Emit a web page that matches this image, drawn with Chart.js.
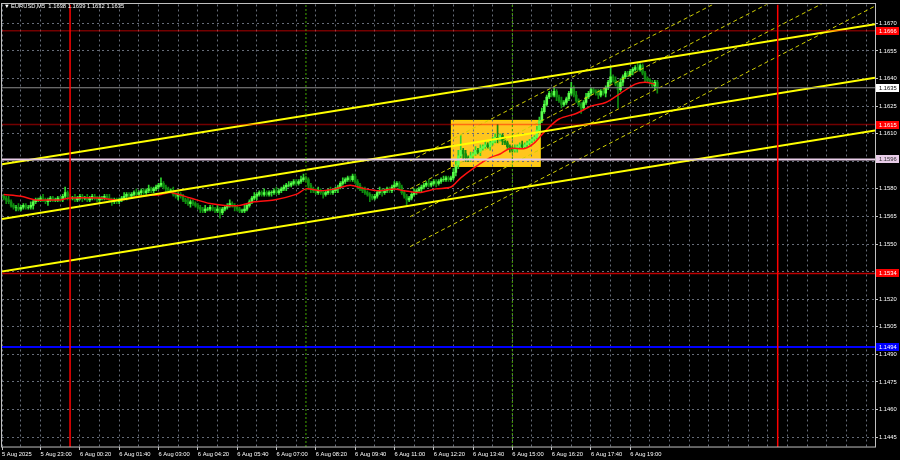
<!DOCTYPE html>
<html>
<head>
<meta charset="utf-8">
<script src="https://cdn.jsdelivr.net/npm/chart.js@4.4.0/dist/chart.umd.min.js"></script>
<style>
  html, body { margin: 0; background: #000; }
</style>
</head>
<body>
<canvas id="chart" width="900" height="460"></canvas>
<script>
// EURUSD M5, bar index 0 = 6 Aug 2025 00:00, one bar = 5 minutes
const firstBar = -27;
const firstOpen = 76;
// closes in pips above 1.1500
const closes = [
  75, 74, 73,
  71, 70, 70, 69, 70, 71, 70, 70, 71,
  73, 74,
  74, 75, 74, 73, 74, 75, 74, 74, 75, 74,
  76, 78, 76, 75,
  75, 74, 75, 76, 75, 75, 74, 75, 76, 75, 74, 75, 75, 76, 75, 74,
  73, 74, 73, 74,
  75, 76, 77, 76, 77, 78, 77, 78,
  79, 78, 79, 80, 79,
  80, 81, 82,
  83,
  81, 80, 79, 79,
  77, 76, 77, 76,
  74, 73, 72, 73, 72, 71,
  70, 69, 68, 69,
  69, 70, 69, 68,
  69, 67, 69, 70,
  71, 72, 71, 70,
  69, 68, 68, 69,
  71, 73, 75, 76,
  77, 78, 77, 78,
  77, 78, 78, 79, 78, 79,
  80, 81, 82, 82,
  83, 84, 83, 84,
  85, 86, 85,
  82, 80,
  79, 78, 79, 78, 77, 78, 79, 78, 79, 80,
  81, 83,
  84, 85, 86, 85, 87,
  84, 82, 80, 79, 78,
  77, 76, 75, 76,
  78, 79, 78, 79, 80, 79,
  81, 82, 83, 81,
  78, 76, 74, 75,
  77, 78, 79, 80,
  81, 82, 83, 82, 83, 84, 83, 84, 85,
  85, 86, 85, 86,
  89, 93,
  98, 101,
  99, 97, 96, 98,
  99, 101, 100, 102,
  103, 104, 103, 105,
  106, 108, 107, 109,
  106, 105,
  103, 102, 101, 102,
  103, 104, 103, 104,
  105, 106, 107, 108,
  112, 117,
  122, 126,
  130, 132, 131, 133,
  130, 128, 126, 127,
  129, 132, 135, 131,
  128, 126, 124, 127,
  130, 132, 134, 133,
  132, 131, 133, 132,
  135, 138, 141, 139,
  137, 134, 138,
  141, 143, 142, 144,
  145, 146, 145, 147,
  143, 140, 139, 138,
  136, 138, 135
];
// wick lengths in pips above / below the body
const wickUp = [
  1,1,2,1,1,1,2,1,1,1,1,2,1,1,1,1,2,1,1,1,
  1,1,1,1,1,3,1,1,1,2,1,1,1,1,2,1,1,1,1,1,
  1,1,1,2,1,1,1,1,1,2,1,1,1,1,2,1,1,1,1,2,
  1,1,1,1,3,1,1,1,1,2,1,1,1,1,1,2,1,1,1,1,
  1,1,2,1,1,1,1,2,1,1,1,1,2,1,1,1,1,1,2,1,
  1,1,2,1,1,1,2,1,1,1,1,2,1,1,1,1,2,1,1,1,
  1,2,2,1,1,1,1,1,2,1,1,1,1,2,1,1,1,1,2,1,
  1,1,1,1,1,1,1,2,1,1,1,1,1,2,1,1,1,1,1,2,
  1,1,1,1,1,1,1,2,1,1,1,1,1,2,1,1,1,1,1,2,
  1,1,1,2,2,3,8,1,2,1,2,1,2,1,2,1,2,1,1,2,
  2,7,1,1,2,1,1,1,2,1,1,2,1,1,1,1,1,2,2,2,
  2,1,1,1,2,1,1,2,1,1,1,3,1,2,1,1,1,2,1,1,
  1,1,2,1,1,1,1,5,1,2,1,2,1,1,1,1,1,1,3,1,
  1,1,1,1,1,1,1
];
const wickDn = [
  1,2,1,1,1,2,1,1,1,1,1,1,2,1,1,1,1,1,2,1,
  1,1,1,1,1,1,2,1,1,1,1,1,2,1,1,1,1,1,1,2,
  1,1,1,1,2,1,1,1,1,1,2,1,1,1,1,1,2,1,1,1,
  1,1,1,1,1,1,2,1,1,1,1,2,1,1,1,1,2,1,1,1,
  2,1,1,1,1,1,1,1,3,1,1,1,1,1,2,1,1,1,1,1,
  1,1,1,2,1,1,1,1,1,2,1,1,1,1,1,2,1,1,1,1,
  1,1,1,1,2,2,1,1,1,1,2,1,1,1,1,1,2,1,1,1,
  1,1,1,1,2,1,1,1,1,3,1,1,1,1,2,1,1,1,1,1,
  1,1,1,1,3,1,1,1,1,1,2,1,1,1,1,1,2,1,1,1,
  1,1,1,1,2,2,1,3,2,1,1,2,1,1,2,1,1,1,2,1,
  1,2,1,2,1,1,2,1,1,2,1,1,1,1,1,1,1,1,1,1,
  1,1,1,1,1,2,1,2,1,1,1,1,1,1,1,3,1,1,1,1,
  1,1,2,1,1,2,1,1,1,1,10,1,2,1,1,1,2,1,1,1,
  1,2,1,1,1,2,3
];

// red moving average
const maBars = [-27, -20, -14, -8, -4, 0, 12, 20, 28, 37, 41, 49, 57, 63, 69, 75, 83, 92, 96, 102,
  108, 114, 120, 126, 132, 136, 142, 149, 155, 159, 165, 171, 175, 179, 185, 189, 193, 199, 206, 212,
  218, 224, 230, 234, 238];
const maValues = [1.1577, 1.1576, 1.1574, 1.1574, 1.1574, 1.1575, 1.1575, 1.1574, 1.1576, 1.1577,
  1.1578, 1.1575, 1.1572, 1.1571, 1.1571, 1.1573, 1.1574, 1.1577, 1.1580, 1.1579,
  1.1580, 1.1582, 1.1580, 1.1579, 1.1580, 1.1579, 1.1578, 1.1580, 1.1581, 1.1586,
  1.1592, 1.1597, 1.1599, 1.1602, 1.1602, 1.1605, 1.1611, 1.1618, 1.1621, 1.1625,
  1.1627, 1.1632, 1.1637, 1.1638, 1.1637];

// horizontal levels
const redLevels = [1.1666, 1.1615, 1.1534];
const pinkLevel = 1.1596;
const blueLevel = 1.1494;
const lastPrice = 1.1635;

// solid yellow trend lines (price at left edge / right edge)
const trendStart = [1.15934, 1.15636, 1.15350];
const trendEnd = [1.16696, 1.16404, 1.16118];
// dashed channel lines (start bar 138.4, end at right edge)
const channelStartBar = 138.4;
const channelStart = [1.15952, 1.15800, 1.15649, 1.15486];
const channelEnd = [1.17259, 1.17108, 1.16956, 1.16794];

// vertical lines
const dayBars = [0, 288];
const sessionBars = [96, 180];

// yellow box
const boxBars = [155, 191.5];
const boxPrices = [1.1592, 1.16175];

const xMin = -27.7, xMax = 327.6;
const yMin = 1.14396, yMax = 1.16803;
const yTicks = [1.1445, 1.1460, 1.1475, 1.1490, 1.1505, 1.1520, 1.1535, 1.1550, 1.1565, 1.1580,
  1.1595, 1.1610, 1.1625, 1.1640, 1.1655, 1.1670];
const symbolTitle = "EURUSD,M5  1.1638 1.1639 1.1632 1.1635";
const firstDateLabel = "5 Aug 2025";

const font = '"Liberation Sans", Arial, "DejaVu Sans", sans-serif';
Chart.defaults.font.family = font;
Chart.defaults.font.size = 5.8;

const toPrice = (p) => +(1.15 + p * 0.0001).toFixed(5);
const lastBar = firstBar + closes.length - 1;

const bars = closes.map((_, k) => firstBar + k);
const opens = closes.map((c, k) => (k === 0 ? firstOpen : closes[k - 1]));
const bodyData = bars.map((x, k) => ({ x, y: [toPrice(opens[k]), toPrice(closes[k])] }));
const wickData = bars.map((x, k) => ({
  x,
  y: [toPrice(Math.min(opens[k], closes[k]) - wickDn[k]), toPrice(Math.max(opens[k], closes[k]) + wickUp[k])],
}));
const bodyColors = closes.map((c, k) => (c >= opens[k] ? "#5cff4c" : "#0f8c0f"));
const wickColors = closes.map((c, k) => (c >= opens[k] ? "#2ed82e" : "#0f8c0f"));

const xTicks = [xMin];
for (let v = -20; v <= 324; v += 8) xTicks.push(v);

const pad = (n) => String(n).padStart(2, "0");
const timeLabel = (v) => {
  if (v === xMin) return firstDateLabel;
  if ((v - 4) % 16 !== 0 || v > lastBar) return "";
  const d = new Date(Date.UTC(2025, 7, 6) + v * 300000);
  return `${d.getUTCDate()} Aug ${pad(d.getUTCHours())}:${pad(d.getUTCMinutes())}`;
};

const hLine = (p) => [{ x: xMin, y: p }, { x: xMax, y: p }];
const vLine = (b) => [{ x: b, y: yMin }, { x: b, y: yMax }];
const lineSet = (data, color, width, order, dash) => ({
  type: "line",
  data,
  borderColor: color,
  borderWidth: width,
  borderDash: dash || [],
  pointRadius: 0,
  fill: false,
  order,
});

const datasets = [
  {
    type: "bar",
    data: wickData,
    backgroundColor: wickColors,
    barThickness: 1,
    grouped: false,
    order: 6,
  },
  {
    type: "bar",
    data: bodyData,
    backgroundColor: bodyColors,
    barThickness: 2,
    grouped: false,
    order: 5,
  },
  {
    ...lineSet(maBars.map((b, k) => ({ x: b, y: maValues[k] })), "#ff1010", 1.5, 4),
    tension: 0.3,
  },
];
channelStart.forEach((p, k) => {
  datasets.push(lineSet([{ x: channelStartBar, y: p }, { x: xMax, y: channelEnd[k] }], "#d0d000", 1, 3, [4, 3]));
});
trendStart.forEach((p, k) => {
  datasets.push(lineSet([{ x: xMin, y: p }, { x: xMax, y: trendEnd[k] }], "#ffff00", 2, 2.5));
});
redLevels.forEach((p, k) => {
  datasets.push(lineSet(hLine(p), k === 2 ? "rgba(255,0,0,0.75)" : "rgba(255,0,0,0.45)", 1.5, 2));
});
datasets.push(lineSet(hLine(pinkLevel), "#e8cce8", 2, 2));
datasets.push(lineSet(hLine(blueLevel), "#0000ff", 2, 2));
datasets.push(lineSet(hLine(lastPrice), "#8c8c8c", 1, 2));
dayBars.forEach((b) => datasets.push(lineSet(vLine(b), "#ff0000", 1.5, 1)));
sessionBars.forEach((b) => datasets.push(lineSet(vLine(b), "#44a800", 1, 1, [2, 2])));

const gridColor = "#666c78";

const mtPlugin = {
  id: "mt",
  beforeDraw(chart) {
    const { ctx, scales: { x, y } } = chart;
    ctx.save();
    ctx.fillStyle = "#000";
    ctx.fillRect(0, 0, chart.width, chart.height);
    const x0 = x.getPixelForValue(boxBars[0]);
    const x1 = x.getPixelForValue(boxBars[1]);
    const y0 = y.getPixelForValue(boxPrices[1]);
    const y1 = y.getPixelForValue(boxPrices[0]);
    ctx.fillStyle = "#ffc61e";
    ctx.fillRect(x0, y0, x1 - x0, y1 - y0);
    ctx.strokeStyle = "#ffd700";
    ctx.lineWidth = 1;
    ctx.strokeRect(x0 + 0.5, y0 + 0.5, x1 - x0 - 1, y1 - y0 - 1);
    ctx.restore();
  },
  afterDraw(chart) {
    const { ctx, chartArea: a, scales: { y } } = chart;
    ctx.save();
    ctx.strokeStyle = "#c0c0c0";
    ctx.lineWidth = 1;
    ctx.strokeRect(Math.round(a.left) - 0.5, Math.round(a.top) - 0.5, a.right - a.left + 1, a.bottom - a.top + 1);

    const tags = [
      [redLevels[0], "#ff0000", "#ffffff"],
      [lastPrice, "#ffffff", "#000000"],
      [redLevels[1], "#ff0000", "#ffffff"],
      [pinkLevel, "#e8cce8", "#303030"],
      [redLevels[2], "#ff0000", "#ffffff"],
      [blueLevel, "#0000ff", "#ffffff"],
    ];
    ctx.font = `5.8px ${font}`;
    ctx.textBaseline = "middle";
    ctx.textAlign = "left";
    tags.forEach(([p, bg, fg]) => {
      const py = Math.round(y.getPixelForValue(p));
      ctx.fillStyle = bg;
      ctx.fillRect(a.right + 1, py - 4, 23, 8);
      ctx.fillStyle = fg;
      ctx.fillText(p.toFixed(4), a.right + 4, py + 0.5);
    });

    ctx.fillStyle = "#ffffff";
    ctx.fillText("\u25BC", 4, 6.5);
    ctx.fillText(symbolTitle, 11, 6.5);
    ctx.restore();
  },
};

new Chart(document.getElementById("chart"), {
  type: "bar",
  data: { datasets },
  options: {
    responsive: false,
    devicePixelRatio: 1,
    animation: false,
    layout: { padding: { left: 2, top: 2, right: 0, bottom: 0 } },
    plugins: { legend: { display: false }, tooltip: { enabled: false } },
    scales: {
      x: {
        type: "linear",
        min: xMin,
        max: xMax,
        offset: false,
        afterBuildTicks: (s) => { s.ticks = xTicks.map((v) => ({ value: v })); },
        afterFit: (s) => { s.height = 13; },
        ticks: {
          autoSkip: false,
          maxRotation: 0,
          align: "start",
          padding: 1,
          color: "#ffffff",
          callback: (v) => timeLabel(v),
        },
        grid: {
          offset: false,
          color: gridColor,
          tickLength: 3,
          tickColor: (c) => (c.tick && c.tick.label ? "#c0c0c0" : "rgba(0,0,0,0)"),
        },
        border: { display: false, dash: [2, 3] },
      },
      y: {
        type: "linear",
        position: "right",
        min: yMin,
        max: yMax,
        beginAtZero: false,
        afterBuildTicks: (s) => { s.ticks = yTicks.map((v) => ({ value: v })); },
        afterFit: (s) => { s.width = 25; },
        ticks: {
          padding: 1,
          color: "#ffffff",
          callback: (v) => v.toFixed(4),
        },
        grid: { color: gridColor, tickLength: 3, tickColor: "#c0c0c0" },
        border: { display: false, dash: [2, 3] },
      },
    },
  },
  plugins: [mtPlugin],
});
</script>
</body>
</html>
